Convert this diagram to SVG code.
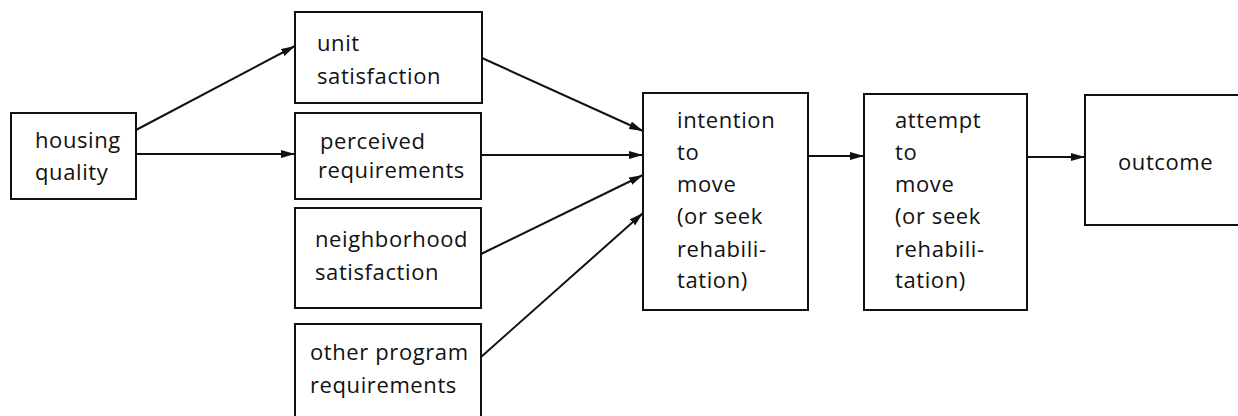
<svg xmlns="http://www.w3.org/2000/svg" width="1238" height="416" viewBox="0 0 1238 416">
  <style>
    .box { fill: #fff; stroke: #111; stroke-width: 2; }
    .lbl { font-family: "Open Sans", "Liberation Sans", sans-serif; font-size: 22px; fill: #111; letter-spacing: 0.6px; }
    .edge { stroke: #111; stroke-width: 2; fill: none; marker-end: url(#head); }
  </style>
  <defs>
    <marker id="head" viewBox="0 0 14 8" refX="14" refY="4" markerWidth="14" markerHeight="8" markerUnits="userSpaceOnUse" orient="auto">
      <path d="M0,0 L14,4 L0,8 Z" fill="#111"/>
    </marker>
  </defs>

  <g id="connectors">
    <line class="edge" x1="136" y1="130" x2="295" y2="46"/>
    <line class="edge" x1="136" y1="154" x2="295" y2="154"/>
    <line class="edge" x1="482" y1="58" x2="643" y2="131"/>
    <line class="edge" x1="481" y1="155" x2="643" y2="155"/>
    <line class="edge" x1="481" y1="254" x2="643" y2="175"/>
    <line class="edge" x1="481" y1="357" x2="643" y2="213"/>
    <line class="edge" x1="808" y1="156" x2="864" y2="156"/>
    <line class="edge" x1="1027" y1="157" x2="1085" y2="157"/>
  </g>

  <g id="housing-quality">
    <rect class="box" x="11" y="113" width="125" height="86"/>
    <text class="lbl" x="35" y="148">housing</text>
    <text class="lbl" x="35" y="180">quality</text>
  </g>

  <g id="unit-satisfaction">
    <rect class="box" x="295" y="12" width="187" height="91"/>
    <text class="lbl" x="317" y="51">unit</text>
    <text class="lbl" x="317" y="84">satisfaction</text>
  </g>

  <g id="perceived-requirements">
    <rect class="box" x="295" y="113" width="186" height="86"/>
    <text class="lbl" x="320" y="149">perceived</text>
    <text class="lbl" x="318" y="178">requirements</text>
  </g>

  <g id="neighborhood-satisfaction">
    <rect class="box" x="295" y="208" width="186" height="100"/>
    <text class="lbl" x="315" y="247">neighborhood</text>
    <text class="lbl" x="315" y="280">satisfaction</text>
  </g>

  <g id="other-program-requirements">
    <rect class="box" x="295" y="324" width="186" height="96"/>
    <text class="lbl" x="310" y="360">other program</text>
    <text class="lbl" x="310" y="393">requirements</text>
  </g>

  <g id="intention-to-move">
    <rect class="box" x="643" y="93" width="165" height="217"/>
    <text class="lbl" x="677" y="128">intention</text>
    <text class="lbl" x="677" y="160">to</text>
    <text class="lbl" x="677" y="192">move</text>
    <text class="lbl" x="677" y="224">(or seek</text>
    <text class="lbl" x="677" y="257">rehabili-</text>
    <text class="lbl" x="677" y="288">tation)</text>
  </g>

  <g id="attempt-to-move">
    <rect class="box" x="864" y="94" width="163" height="216"/>
    <text class="lbl" x="895" y="128">attempt</text>
    <text class="lbl" x="895" y="160">to</text>
    <text class="lbl" x="895" y="192">move</text>
    <text class="lbl" x="895" y="224">(or seek</text>
    <text class="lbl" x="895" y="257">rehabili-</text>
    <text class="lbl" x="895" y="288">tation)</text>
  </g>

  <g id="outcome">
    <rect class="box" x="1085" y="95" width="160" height="130"/>
    <text class="lbl" x="1118" y="170">outcome</text>
  </g>
</svg>
